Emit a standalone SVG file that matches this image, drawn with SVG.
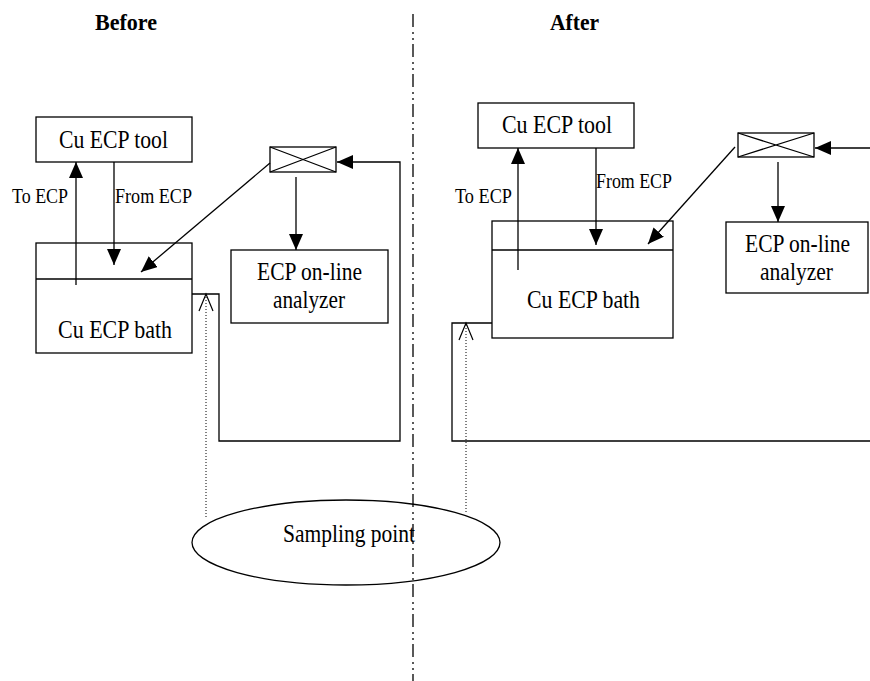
<svg xmlns="http://www.w3.org/2000/svg" width="870" height="681" viewBox="0 0 870 681">
<style>
.box{fill:#fff;stroke:#000;stroke-width:1.3}
.ln{fill:none;stroke:#000;stroke-width:1.3}
.arr{fill:none;stroke:#000;stroke-width:1.3;marker-end:url(#ah)}
.dot{fill:none;stroke:#000;stroke-width:1;stroke-dasharray:1 2}
.chev{fill:none;stroke:#000;stroke-width:1.2}
.t{font-family:"Liberation Serif","Times New Roman",serif;font-size:25px;fill:#000}
.s{font-family:"Liberation Serif","Times New Roman",serif;font-size:20px;fill:#000}
.h{font-family:"Liberation Serif","Times New Roman",serif;font-size:24px;font-weight:bold;fill:#000}
.sep{fill:none;stroke:#000;stroke-width:1.3;stroke-dasharray:13 5 2 4 2 4}
</style>
<defs>
<marker id="ah" markerUnits="userSpaceOnUse" markerWidth="16" markerHeight="14" refX="16" refY="7" orient="auto">
<path d="M0,0 L16,7 L0,14 z" fill="#000"/>
</marker>
</defs>
<rect width="870" height="681" fill="#fff"/>
<g id="titles">
<text class="h" x="95" y="30" textLength="62" lengthAdjust="spacingAndGlyphs">Before</text>
<text class="h" x="550" y="30" textLength="49" lengthAdjust="spacingAndGlyphs">After</text>
</g>
<g id="separator"><line class="sep" x1="413" y1="14" x2="413" y2="681"/></g>

<g id="before-tool"><rect class="box" x="36" y="117" width="156" height="45"/><text class="t" x="59" y="148" textLength="109" lengthAdjust="spacingAndGlyphs">Cu ECP tool</text></g>
<g id="before-bath"><rect class="box" x="36" y="243" width="156" height="110"/><line class="ln" x1="36" y1="279" x2="192" y2="279"/><text class="t" x="58" y="338" textLength="114" lengthAdjust="spacingAndGlyphs">Cu ECP bath</text></g>
<g id="before-valve"><rect class="box" x="270" y="147" width="66" height="25"/><path class="ln" d="M270,147 L336,172 M336,147 L270,172"/></g>
<g id="before-analyzer"><rect class="box" x="231" y="250" width="157" height="73"/><text class="t" x="257" y="280" textLength="105" lengthAdjust="spacingAndGlyphs">ECP on-line</text><text class="t" x="273" y="308" textLength="72" lengthAdjust="spacingAndGlyphs">analyzer</text></g>

<g id="after-tool"><rect class="box" x="478" y="103" width="156" height="45"/><text class="t" x="502" y="133" textLength="110" lengthAdjust="spacingAndGlyphs">Cu ECP tool</text></g>
<g id="after-bath"><rect class="box" x="492" y="221" width="181" height="117"/><line class="ln" x1="492" y1="250" x2="673" y2="250"/><text class="t" x="527" y="308" textLength="113" lengthAdjust="spacingAndGlyphs">Cu ECP bath</text></g>
<g id="after-valve"><rect class="box" x="738" y="133" width="76" height="24"/><path class="ln" d="M738,133 L814,157 M814,133 L738,157"/></g>
<g id="after-analyzer"><rect class="box" x="726" y="222" width="142" height="71"/><text class="t" x="745" y="252" textLength="105" lengthAdjust="spacingAndGlyphs">ECP on-line</text><text class="t" x="760" y="280" textLength="73" lengthAdjust="spacingAndGlyphs">analyzer</text></g>

<g id="sampling-point"><ellipse cx="346" cy="542.5" rx="154" ry="42.5" fill="none" stroke="#000" stroke-width="1.3"/><text class="t" x="283" y="542" textLength="132" lengthAdjust="spacingAndGlyphs">Sampling point</text></g>

<g id="connectors">
<line class="arr" x1="76" y1="285" x2="76" y2="162"/>
<line class="arr" x1="114" y1="162" x2="114" y2="265"/>
<line class="arr" x1="270" y1="163" x2="141" y2="272"/>
<line class="arr" x1="296" y1="177" x2="296" y2="250"/>
<path class="arr" d="M192,294 L219,294 L219,441 L400,441 L400,162 L337,162"/>
<line class="dot" x1="206" y1="517" x2="206" y2="296"/>
<path class="chev" d="M199,311 L206,294 L213,311"/>
<text class="s" x="12" y="203" textLength="56" lengthAdjust="spacingAndGlyphs">To ECP</text>
<text class="s" x="115" y="203" textLength="77" lengthAdjust="spacingAndGlyphs">From ECP</text>

<line class="arr" x1="518" y1="270" x2="518" y2="148"/>
<line class="arr" x1="596" y1="148" x2="596" y2="245"/>
<line class="arr" x1="735" y1="147" x2="648" y2="244"/>
<line class="arr" x1="778" y1="162" x2="778" y2="222"/>
<line class="arr" x1="870" y1="148" x2="815" y2="148"/>
<path class="ln" d="M492,323 L452,323 L452,441 L870,441"/>
<line class="dot" x1="466" y1="512" x2="466" y2="325"/>
<path class="chev" d="M459,340 L466,323 L473,340"/>
<text class="s" x="455" y="203" textLength="57" lengthAdjust="spacingAndGlyphs">To ECP</text>
<text class="s" x="596" y="188" textLength="76" lengthAdjust="spacingAndGlyphs">From ECP</text>
</g>
</svg>
